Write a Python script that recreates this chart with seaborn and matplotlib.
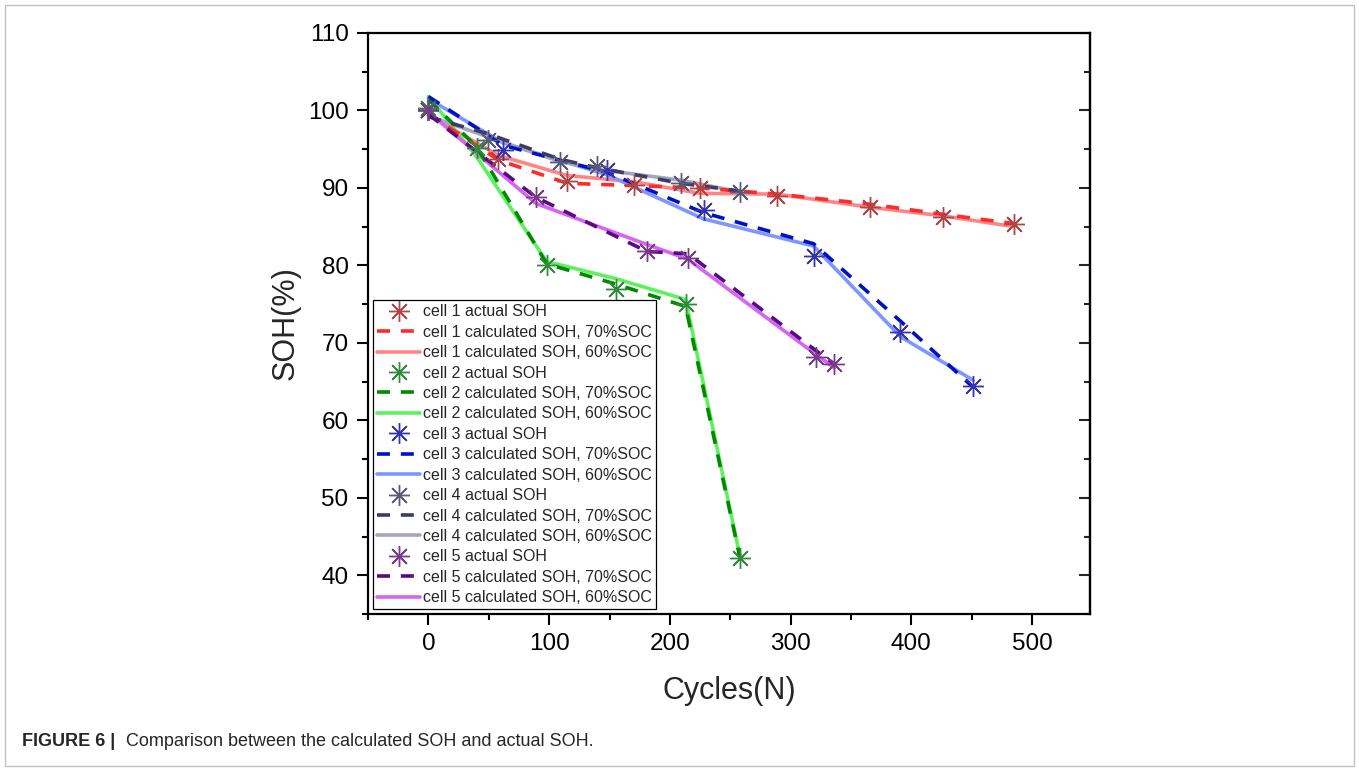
import matplotlib
matplotlib.use("Agg")
import matplotlib.pyplot as plt
import seaborn as sns
from matplotlib.patches import Rectangle
from matplotlib.ticker import MultipleLocator

# ---- data ----
cell1_x = [0, 58, 115, 170, 225, 289, 366, 426, 485]
cell1_actual = [100.0, 93.7, 90.9, 90.4, 90.0, 89.0, 87.6, 86.2, 85.3]
cell1_70 = [99.6, 93.6, 90.6, 90.3, 90.0, 89.2, 87.9, 86.6, 85.4]
cell1_60 = [99.4, 94.2, 91.6, 90.8, 89.3, 89.2, 87.5, 86.4, 85.0]

cell2_x = [0, 40, 98, 155, 213, 258]
cell2_actual = [100.3, 95.2, 80.0, 76.9, 75.0, 42.2]
cell2_70 = [101.4, 95.3, 80.2, 77.6, 74.7, 42.3]
cell2_60 = [101.8, 94.0, 80.5, 78.3, 75.6, 42.5]

cell3_x = [0, 62, 148, 228, 319, 391, 451]
cell3_actual = [100.0, 94.9, 92.3, 87.2, 81.2, 71.4, 64.4]
cell3_70 = [101.8, 95.5, 92.0, 86.8, 82.8, 72.8, 64.3]
cell3_60 = [101.5, 95.8, 91.7, 86.0, 82.5, 70.8, 65.2]

cell4_x = [0, 49, 109, 140, 209, 258]
cell4_actual = [100.0, 96.2, 93.3, 92.8, 90.7, 89.5]
cell4_70 = [99.2, 97.0, 93.7, 92.6, 90.6, 89.6]
cell4_60 = [99.3, 96.6, 93.4, 92.4, 91.0, 89.5]

cell5_x = [0, 89, 181, 215, 321, 336]
cell5_actual = [100.0, 88.8, 81.8, 81.0, 68.2, 67.3]
cell5_70 = [99.5, 88.8, 81.8, 81.5, 69.0, 67.3]
cell5_60 = [99.8, 88.0, 82.7, 80.8, 68.5, 66.8]

cells = [
    ("cell 1", cell1_x, cell1_actual, cell1_70, cell1_60, "#b04444", "#ff2a2a", "#ff8585"),
    ("cell 2", cell2_x, cell2_actual, cell2_70, cell2_60, "#2e8b3a", "#008a00", "#5ff05f"),
    ("cell 3", cell3_x, cell3_actual, cell3_70, cell3_60, "#3434b0", "#0010c8", "#8096ff"),
    ("cell 4", cell4_x, cell4_actual, cell4_70, cell4_60, "#5a5a78", "#3c3c64", "#a4a4c4"),
    ("cell 5", cell5_x, cell5_actual, cell5_70, cell5_60, "#7a3a8a", "#5a0a82", "#d466f2"),
]

sns.set_theme(style="ticks")
plt.rcParams["font.family"] = ["Liberation Sans", "DejaVu Sans"]

fig = plt.figure(figsize=(13.59, 7.71), dpi=100)
ax = fig.add_axes([0.2708, 0.2036, 0.5313, 0.7536])

star = (8, 2, 0)
for name, x, act, c70, c60, col_a, col_70, col_60 in cells:
    sns.lineplot(x=x, y=act, ax=ax, color=col_a, linestyle="", marker=star,
                 markersize=15, markeredgecolor=col_a, markeredgewidth=1.0,
                 label=f"{name} actual SOH", zorder=4)
    sns.lineplot(x=x, y=c70, ax=ax, color=col_70, linewidth=2.6,
                 linestyle=(0, (3.6, 3.0)), label=f"{name} calculated SOH, 70%SOC", zorder=3)
    sns.lineplot(x=x, y=c60, ax=ax, color=col_60, linewidth=2.6,
                 label=f"{name} calculated SOH, 60%SOC", zorder=2)

ax.set_xlim(-50, 548)
ax.set_ylim(35, 110)
ax.xaxis.set_major_locator(MultipleLocator(100))
ax.xaxis.set_minor_locator(MultipleLocator(50))
ax.yaxis.set_major_locator(MultipleLocator(10))
ax.yaxis.set_minor_locator(MultipleLocator(5))
ax.tick_params(which="both", direction="out", top=False, right=False,
               width=1.5, colors="black", labelsize=17.5, pad=6)
ax.tick_params(which="major", length=8)
ax.tick_params(which="minor", length=4.5)
for s in ax.spines.values():
    s.set_linewidth(1.6)
    s.set_color("black")

# inward ticks on the right spine
ax_r = ax.secondary_yaxis("right")
ax_r.yaxis.set_major_locator(MultipleLocator(10))
ax_r.yaxis.set_minor_locator(MultipleLocator(5))
ax_r.tick_params(which="both", direction="in", width=1.5, labelright=False)
ax_r.tick_params(which="major", length=8)
ax_r.tick_params(which="minor", length=4.5)
ax_r.spines["right"].set_linewidth(1.6)

ax.set_xlabel("Cycles(N)", fontsize=22, labelpad=15)
ax.set_ylabel("SOH(%)", fontsize=22, labelpad=5)

leg = ax.legend(loc="upper left", bbox_to_anchor=(0.007, 0.54), borderaxespad=0,
                fontsize=11.5, frameon=True, fancybox=False, framealpha=1,
                edgecolor="black", handlelength=2.7, handletextpad=0.2,
                labelspacing=0.34, borderpad=0.25)
leg.get_frame().set_linewidth(0.9)

fig.patches.append(Rectangle((0.004, 0.007), 0.992, 0.986, transform=fig.transFigure,
                             fill=False, edgecolor="#c0c0c0", linewidth=1.0))
fig.text(0.016, 0.033, "FIGURE 6 |", fontsize=13, fontweight="bold", ha="left", va="baseline")
fig.text(0.093, 0.033, "Comparison between the calculated SOH and actual SOH.",
         fontsize=13, ha="left", va="baseline")

fig.savefig("out.png", dpi=100)
